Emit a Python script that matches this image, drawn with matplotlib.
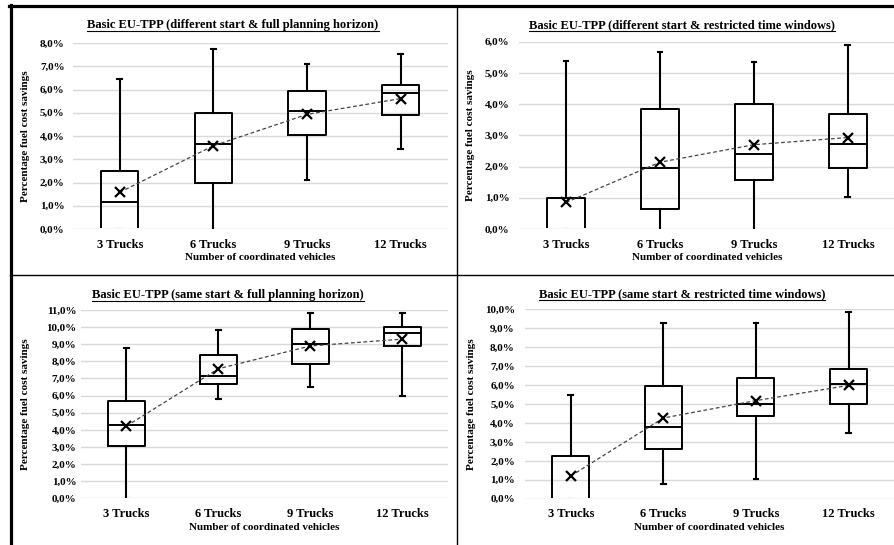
import matplotlib
matplotlib.use("Agg")
import matplotlib.pyplot as plt
from matplotlib.ticker import FuncFormatter, MultipleLocator
from matplotlib.lines import Line2D
from matplotlib.patches import Rectangle

categories = ["3 Trucks", "6 Trucks", "9 Trucks", "12 Trucks"]

# Panel 1: different start & full planning horizon
p1_min = [0.0, 0.0, 2.10, 3.45]
p1_q1 = [0.0, 1.97, 4.03, 4.91]
p1_med = [1.15, 3.64, 5.09, 5.84]
p1_q3 = [2.50, 4.97, 5.93, 6.21]
p1_max = [6.45, 7.75, 7.10, 7.52]
p1_mean = [1.58, 3.58, 4.93, 5.61]

# Panel 2: different start & restricted time windows
p2_min = [0.0, 0.0, 0.0, 1.01]
p2_q1 = [0.0, 0.65, 1.57, 1.95]
p2_med = [0.0, 1.95, 2.40, 2.73]
p2_q3 = [1.00, 3.84, 4.00, 3.69]
p2_max = [5.37, 5.68, 5.34, 5.88]
p2_mean = [0.85, 2.14, 2.70, 2.93]

# Panel 3: same start & full planning horizon
p3_min = [0.0, 5.83, 6.52, 6.00]
p3_q1 = [3.05, 6.70, 7.83, 8.90]
p3_med = [4.30, 7.15, 9.00, 9.65]
p3_q3 = [5.68, 8.35, 9.88, 10.03]
p3_max = [8.77, 9.83, 10.80, 10.83]
p3_mean = [4.22, 7.57, 8.90, 9.30]

# Panel 4: same start & restricted time windows
p4_min = [0.0, 0.75, 1.03, 3.45]
p4_q1 = [0.0, 2.60, 4.37, 4.99]
p4_med = [0.0, 3.77, 5.01, 6.03]
p4_q3 = [2.25, 5.93, 6.37, 6.86]
p4_max = [5.50, 9.30, 9.26, 9.84]
p4_mean = [1.20, 4.26, 5.18, 5.98]

titles = [
    "Basic EU-TPP (different start & full planning horizon)",
    "Basic EU-TPP (different start & restricted time windows)",
    "Basic EU-TPP (same start & full planning horizon)",
    "Basic EU-TPP (same start & restricted time windows)",
]
ymax = [8, 6, 11, 10]
ylabel = "Percentage fuel cost savings"
xlabel = "Number of coordinated vehicles"

panels = [
    (p1_min, p1_q1, p1_med, p1_q3, p1_max, p1_mean),
    (p2_min, p2_q1, p2_med, p2_q3, p2_max, p2_mean),
    (p3_min, p3_q1, p3_med, p3_q3, p3_max, p3_mean),
    (p4_min, p4_q1, p4_med, p4_q3, p4_max, p4_mean),
]

W, H = 894, 545
# axes rects in pixels: left, right, top, bottom
rects = [
    (72.9, 447.6, 43.0, 229.0),
    (519.1, 894.8, 41.7, 229.0),
    (80.5, 448.3, 310.0, 498.3),
    (524.5, 894.8, 309.3, 498.7),
]
ypads = [6.0, 7.0, 3.0, 7.0]
title_pos = [(233, 25), (682, 25), (228, 295), (682, 294.5)]
ylabel_x = [30, 475, 30, 476]
xlabely = [258, 258, 528, 528]

FONT = "Liberation Serif"
plt.rcParams["font.family"] = FONT
plt.rcParams["font.weight"] = "bold"

fig = plt.figure(figsize=(W / 100, H / 100), dpi=100)

def fmt(v, pos):
    return ("%.1f%%" % v).replace(".", ",")

title_texts = []
for i, (data, (l, r, t, b)) in enumerate(zip(panels, rects)):
    ax = fig.add_axes([l / W, 1 - b / H, (r - l) / W, (b - t) / H])
    mn, q1, med, q3, mx, mean = data
    stats = []
    for k in range(len(categories)):
        stats.append(dict(med=med[k], q1=q1[k], q3=q3[k], whislo=mn[k],
                          whishi=mx[k], mean=mean[k], fliers=[], label=categories[k]))
    pos = list(range(len(categories)))
    arts = ax.bxp(stats, positions=pos, widths=0.4, showmeans=False, showfliers=False,
                  patch_artist=False,
                  boxprops=dict(color="black", linewidth=1.4),
                  medianprops=dict(color="black", linewidth=1.4),
                  whiskerprops=dict(color="black", linewidth=1.5),
                  capprops=dict(color="black", linewidth=1.5),
                  capwidths=0.05, zorder=3)
    ax.set_xlim(-0.5, len(categories) - 0.5)
    ax.set_ylim(0, ymax[i])
    # clip outlines just above the zero line (elements lying on 0 are hidden)
    eps = ymax[i] * 1.2 / (b - t)
    clip = Rectangle((-0.5, eps), len(categories), ymax[i] * 2, transform=ax.transData,
                     facecolor="none", edgecolor="none")
    ax.add_patch(clip)
    for key in ("boxes", "medians", "caps"):
        for a in arts[key]:
            a.set_clip_path(clip)
    ax.plot(pos, mean, linestyle=(0, (3, 2)), color="#444444", linewidth=0.9, zorder=4)
    ax.plot(pos, mean, linestyle="none", marker="x", markersize=7, mew=1.6,
            color="black", zorder=5)
    ax.yaxis.set_major_locator(MultipleLocator(1))
    ax.yaxis.set_major_formatter(FuncFormatter(fmt))
    ax.grid(axis="y", color="#d9d9d9", linewidth=1.0, zorder=0)
    ax.set_axisbelow(True)
    for s in ax.spines.values():
        s.set_visible(False)
    ax.tick_params(axis="both", length=0)
    ax.tick_params(axis="y", labelsize=8, pad=ypads[i])
    ax.tick_params(axis="x", labelsize=9, pad=7)
    ax.set_xticks(pos)
    ax.set_xticklabels(categories, fontweight="bold")
    for lab in ax.get_yticklabels():
        lab.set_fontweight("bold")
    ax.set_ylabel(ylabel, fontsize=8, fontweight="bold")
    ax.yaxis.set_label_coords((ylabel_x[i] - l) / (r - l), 0.5)
    ax.set_xlabel(xlabel, fontsize=8, fontweight="bold")
    ax.xaxis.set_label_coords(0.5, (b - xlabely[i]) / (b - t))
    ax.xaxis.label.set_va("center")
    ax.patch.set_alpha(0)
    tx, ty = title_pos[i]
    tt = fig.text(tx / W, 1 - ty / H, titles[i], fontsize=9, fontweight="bold",
                  ha="center", va="center")
    title_texts.append(tt)

# borders
def hline(y, x0, x1, lw):
    fig.add_artist(Line2D([x0 / W, x1 / W], [1 - y / H, 1 - y / H], color="black", linewidth=lw))

def vline(x, y0, y1, lw):
    fig.add_artist(Line2D([x / W, x / W], [1 - y0 / H, 1 - y1 / H], color="black", linewidth=lw))

hline(6, 9, 894, 2.3)
vline(10.5, 5, 545, 2.3)
vline(457.3, 6, 545, 1.0)
hline(275, 10, 894, 1.0)

# underline titles
fig.canvas.draw()
renderer = fig.canvas.get_renderer()
for tt in title_texts:
    bb = tt.get_window_extent(renderer)
    y = bb.y0 + 0.5
    fig.add_artist(Line2D([bb.x0 / W, bb.x1 / W], [y / H, y / H], color="black", linewidth=0.8))

fig.savefig("out.png", dpi=100)
